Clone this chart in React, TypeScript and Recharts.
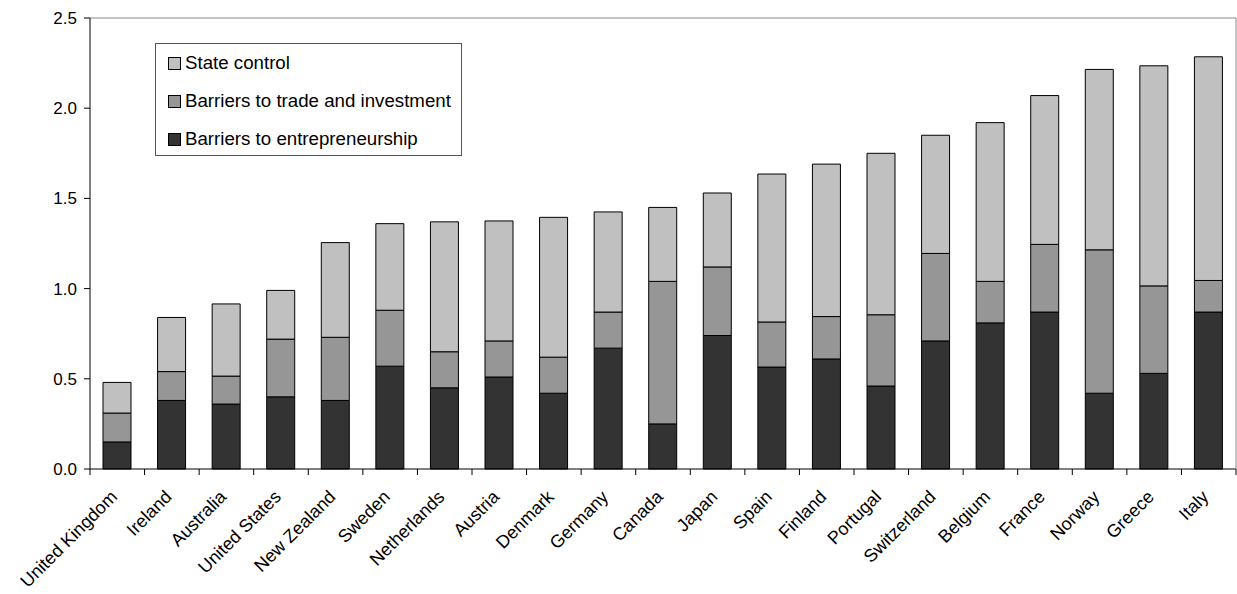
import { BarChart, Bar, XAxis, YAxis, Legend, ReferenceLine } from "recharts";

const countries = [
  "United Kingdom", "Ireland", "Australia", "United States", "New Zealand",
  "Sweden", "Netherlands", "Austria", "Denmark", "Germany", "Canada", "Japan",
  "Spain", "Finland", "Portugal", "Switzerland", "Belgium", "France", "Norway",
  "Greece", "Italy",
];

const entrepreneurship = [
  0.15, 0.38, 0.36, 0.4, 0.38, 0.57, 0.45, 0.51, 0.42, 0.67, 0.25, 0.74,
  0.565, 0.61, 0.46, 0.71, 0.81, 0.87, 0.42, 0.53, 0.87,
];
const tradeInvestment = [
  0.16, 0.16, 0.155, 0.32, 0.35, 0.31, 0.2, 0.2, 0.2, 0.2, 0.79, 0.38,
  0.25, 0.235, 0.395, 0.485, 0.23, 0.375, 0.795, 0.485, 0.175,
];
const stateControl = [
  0.17, 0.3, 0.4, 0.27, 0.525, 0.48, 0.72, 0.665, 0.775, 0.555, 0.41, 0.41,
  0.82, 0.845, 0.895, 0.655, 0.88, 0.825, 1.0, 1.22, 1.24,
];

const yTicks = [0, 0.5, 1, 1.5, 2, 2.5];

const data = countries.map((c, i) => ({
  country: c,
  entr: entrepreneurship[i],
  trade: tradeInvestment[i],
  state: stateControl[i],
}));

const W = 1237;
const H = 594;
const Y_AXIS_W = 90;
const RIGHT_W = 1;
const band = (W - Y_AXIS_W - RIGHT_W) / countries.length;
const FONT = "'Liberation Sans', Arial, Helvetica, sans-serif";

const XTick = (props: any) => {
  const { x, y, payload } = props;
  const idx = payload.index ?? props.index;
  const tx = x + 1;
  const ty = y + 29;
  return (
    <g>
      <line x1={x - band / 2} x2={x - band / 2} y1={y} y2={y + 6} stroke="#000" />
      {idx === countries.length - 1 && (
        <line x1={x + band / 2} x2={x + band / 2} y1={y} y2={y + 6} stroke="#000" />
      )}
      <text
        x={tx}
        y={ty}
        textAnchor="end"
        transform={`rotate(-45, ${tx}, ${ty})`}
        fontSize={18}
        fontFamily={FONT}
        fill="#000"
      >
        {payload.value}
      </text>
    </g>
  );
};

const renderLegend = (props: any) => {
  const items = [...(props.payload || [])].reverse();
  return (
    <div
      style={{
        width: 307,
        height: 113,
        boxSizing: "border-box",
        border: "1px solid #555",
        background: "#fff",
        fontFamily: FONT,
        fontSize: 18.7,
        color: "#000",
        overflow: "hidden",
      }}
    >
      {items.map((it: any) => (
        <div
          key={it.value}
          style={{ height: 38, display: "flex", alignItems: "center", paddingLeft: 12 }}
        >
          <span
            style={{
              width: 11,
              height: 11,
              background: it.color,
              border: "1px solid #000",
              display: "inline-block",
              marginRight: 4,
            }}
          />
          <span>{it.value}</span>
        </div>
      ))}
    </div>
  );
};

export default function App() {
  return (
    <div style={{ position: "absolute", left: 0, top: 0, background: "#fff" }}>
      <BarChart
        width={W}
        height={H}
        data={data}
        margin={{ top: 18, right: 0, bottom: 0, left: 0 }}
      >
        <XAxis
          dataKey="country"
          interval={0}
          height={125}
          tickLine={false}
          tickSize={0}
          tickMargin={0}
          axisLine={{ stroke: "#000" }}
          tick={<XTick />}
        />
        <YAxis
          yAxisId="left"
          width={Y_AXIS_W}
          domain={[0, 2.5]}
          ticks={yTicks}
          tickFormatter={(v: number) => v.toFixed(1)}
          tickSize={6}
          tickMargin={7}
          axisLine={{ stroke: "#000" }}
          tickLine={{ stroke: "#000" }}
          tick={{ fill: "#000", fontSize: 17, fontFamily: FONT }}
        />
        <YAxis
          yAxisId="right"
          orientation="right"
          width={RIGHT_W}
          domain={[0, 2.5]}
          tick={false}
          tickLine={false}
          axisLine={{ stroke: "#888" }}
        />
        <ReferenceLine y={2.5} yAxisId="left" stroke="#888" />
        <Legend
          layout="horizontal"
          verticalAlign="middle"
          align="center"
          wrapperStyle={{ left: 155, top: 43, width: 307, height: 113 }}
          content={renderLegend}
        />
        <Bar
          dataKey="entr"
          name="Barriers to entrepreneurship"
          stackId="a"
          yAxisId="left"
          fill="#333333"
          stroke="#000"
          strokeWidth={1}
          barSize={28}
          isAnimationActive={false}
        />
        <Bar
          dataKey="trade"
          name="Barriers to trade and investment"
          stackId="a"
          yAxisId="left"
          fill="#969696"
          stroke="#000"
          strokeWidth={1}
          barSize={28}
          isAnimationActive={false}
        />
        <Bar
          dataKey="state"
          name="State control"
          stackId="a"
          yAxisId="left"
          fill="#C0C0C0"
          stroke="#000"
          strokeWidth={1}
          barSize={28}
          isAnimationActive={false}
        />
      </BarChart>
    </div>
  );
}
